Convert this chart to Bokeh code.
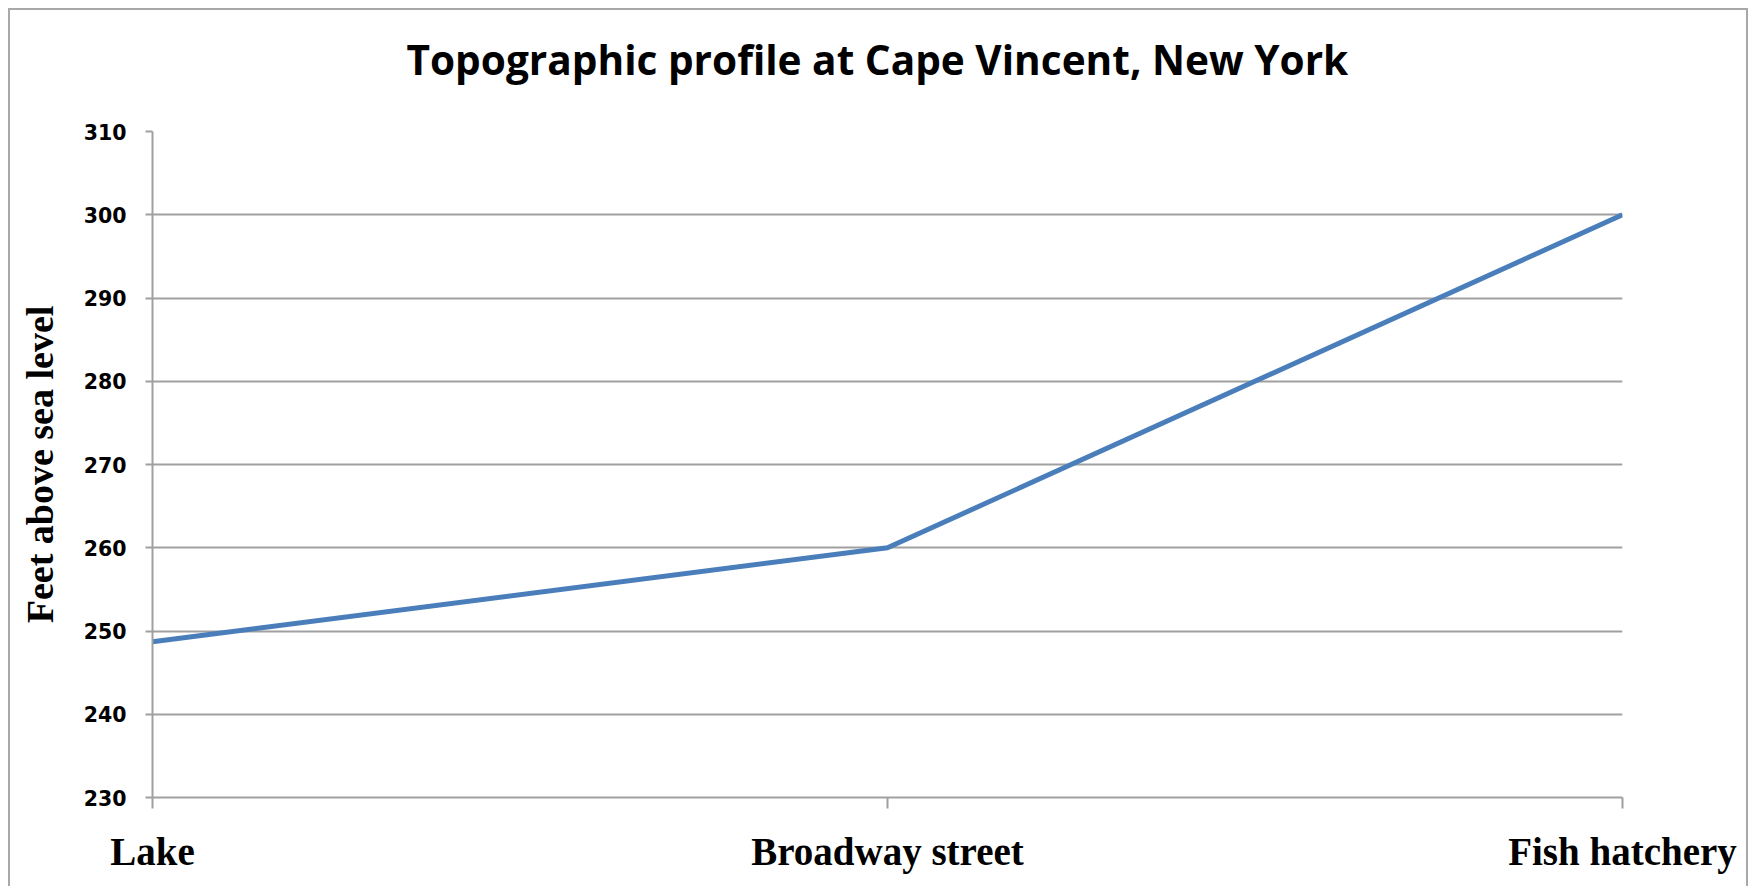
from bokeh.plotting import figure
from bokeh.models import Range1d, FixedTicker, LinearAxis
from bokeh.embed import file_html
from bokeh.resources import INLINE

# Data
categories = ["Lake", "Broadway street", "Fish hatchery"]
elevations = [248.7, 260, 300]
y_ticks = [230, 240, 250, 260, 270, 280, 290, 300, 310]
title_text = "Topographic profile at Cape Vincent, New York"
y_label = "Feet above sea level"

xs = list(range(len(categories)))

p = figure(width=1740, height=878, output_backend="svg", toolbar_location=None,
           x_range=Range1d(0, len(categories) - 1), y_range=Range1d(y_ticks[0], y_ticks[-1]),
           min_border_left=142, min_border_right=128, min_border_top=121, min_border_bottom=91,
           title=title_text)
p.styles = {"margin-left": "8px", "margin-top": "8px",
            "border-left": "2px solid #A8A8A8", "border-top": "2px solid #A8A8A8",
            "border-right": "2px solid #A8A8A8"}

p.line(xs, elevations, line_color="#4A7EBB", line_width=5)

grid_color = "#A0A0A0"
p.outline_line_color = None
p.background_fill_color = "white"
p.border_fill_color = "white"

# blank spacer between title and plot area (white, invisible on white)
spacer = LinearAxis(ticker=FixedTicker(ticks=[xs[0]]), major_tick_out=35, major_tick_in=0,
                    minor_tick_out=0, minor_tick_in=0, major_label_standoff=0,
                    major_label_overrides={xs[0]: ""}, major_label_text_color=None,
                    axis_line_color=None, major_tick_line_color="white",
                    major_tick_line_width=1, minor_tick_line_color=None)
p.add_layout(spacer, "above")

# title
p.title.text_font = "Open Sans"
p.title.text_font_style = "bold"
p.title.text_font_size = "40.6px"
p.title.text_color = "black"
p.title.align = "left"
p.title.offset = 254
p.title.standoff = 20

# y axis
p.yaxis.ticker = FixedTicker(ticks=y_ticks)
p.yaxis.major_label_text_font = "DejaVu Sans"
p.yaxis.major_label_text_font_style = "bold"
p.yaxis.major_label_text_font_size = "20.5px"
p.yaxis.major_label_text_color = "black"
p.yaxis.major_tick_out = 7
p.yaxis.major_tick_in = 0
p.yaxis.minor_tick_line_color = None
p.yaxis.axis_line_color = grid_color
p.yaxis.axis_line_width = 2
p.yaxis.major_tick_line_color = grid_color
p.yaxis.major_tick_line_width = 2
p.yaxis.major_label_standoff = 19
p.yaxis.axis_label = y_label
p.yaxis.axis_label_text_font = "Liberation Serif"
p.yaxis.axis_label_text_font_style = "bold"
p.yaxis.axis_label_text_font_size = "38px"
p.yaxis.axis_label_text_color = "black"
p.yaxis.axis_label_standoff = 20

# x axis
xaxis = p.below[0]
xaxis.ticker = FixedTicker(ticks=xs)
xaxis.major_label_overrides = {i: c for i, c in enumerate(categories)}
xaxis.major_label_text_font = "Liberation Serif"
xaxis.major_label_text_font_style = "bold"
xaxis.major_label_text_font_size = "39px"
xaxis.major_label_text_color = "black"
xaxis.major_tick_out = 11
xaxis.major_tick_in = 0
xaxis.minor_tick_line_color = None
xaxis.axis_line_color = grid_color
xaxis.axis_line_width = 2
xaxis.major_tick_line_color = grid_color
xaxis.major_tick_line_width = 2
xaxis.major_label_standoff = 21

p.xgrid.grid_line_color = None
p.ygrid.grid_line_color = grid_color
p.ygrid.grid_line_width = 2

open("out.html", "w").write(file_html(p, INLINE))
